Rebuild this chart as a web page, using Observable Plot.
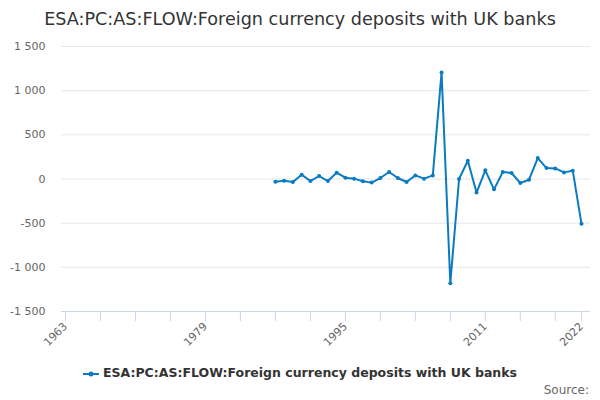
<!DOCTYPE html>
<html>
<head>
<meta charset="utf-8">
<script src="https://cdn.jsdelivr.net/npm/d3@7"></script>
<script src="https://cdn.jsdelivr.net/npm/@observablehq/plot@0.6"></script>
<style>
  body { margin: 0; background: #fff; font-family: "DejaVu Sans", sans-serif; }
  #wrap { width: 600px; height: 400px; position: relative; }
  #title { height: 36px; line-height: 38px; text-align: center; font-size: 17.6px; color: #333; }
  #legend { position: absolute; top: 365px; left: 0; width: 600px; text-align: center; font-size: 12.5px; font-weight: bold; color: #333; }
  #legend svg { vertical-align: middle; margin-right: 4px; }
  #source { position: absolute; top: 383px; right: 11px; font-size: 12px; color: #666; }
</style>
</head>
<body>
<div id="wrap">
  <div id="title">ESA:PC:AS:FLOW:Foreign currency deposits with UK banks</div>
  <div id="chart"></div>
  <div id="legend"><svg width="16" height="10"><line x1="0" y1="5" x2="16" y2="5" stroke="#0b7bc1" stroke-width="2"/><circle cx="8" cy="5" r="2.5" fill="#0b7bc1"/></svg>ESA:PC:AS:FLOW:Foreign currency deposits with UK banks</div>
  <div id="source">Source:</div>
</div>
<script>
const seriesName = "ESA:PC:AS:FLOW:Foreign currency deposits with UK banks"
const years = d3.range(1987, 2023)
const values = [-30, -19, -34, 49, -23, 34, -23, 71, 15, 4,
                -26, -41, 11, 79, 11, -34, 41, 4, 41, 1207,
                -1180, 0, 207, -154, 98, -117, 79, 68, -45, -8,
                237, 124, 120, 75, 94, -508]
const tickYears = [1963, 1967, 1971, 1975, 1979, 1983, 1987, 1991, 1995, 1999, 2003, 2007, 2011, 2015, 2019, 2022]
const labelYears = [1963, 1979, 1995, 2011, 2022]
const yTicks = [-1500, -1000, -500, 0, 500, 1000, 1500]

const data = years.map((y, i) => ({year: y, value: values[i]}))
const fmt = d3.formatLocale({decimal: ".", thousands: " ", grouping: [3], currency: ["", ""], minus: "-"}).format(",")
const color = "#0b7bc1"

const chart = Plot.plot({
  width: 600,
  height: 318,
  marginTop: 10,
  marginBottom: 43,
  marginLeft: 61,
  marginRight: 10,
  insetLeft: 4,
  insetRight: 9,
  style: {fontFamily: "DejaVu Sans, sans-serif", fontSize: "11px", color: "#666", background: "#fff"},
  x: {domain: [1963, 2022]},
  y: {domain: [-1500, 1500]},
  marks: [
    Plot.gridY(yTicks, {stroke: "#e6e6e6", strokeOpacity: 1}),
    Plot.ruleY([-1500], {stroke: "#ccd6eb"}),
    Plot.axisY(yTicks, {tickSize: 0, tickPadding: 16, tickFormat: fmt, label: null, fill: "#666"}),
    Plot.axisX(tickYears, {tickSize: 10, stroke: "#ccd6eb", text: null, label: null}),
    Plot.axisX(labelYears, {tickSize: 0, tickPadding: 13, tickRotate: -45, tickFormat: d => String(d), label: null, fill: "#666"}),
    Plot.line(data, {x: "year", y: "value", stroke: color, strokeWidth: 2}),
    Plot.dot(data, {x: "year", y: "value", fill: color, r: 2})
  ]
})

d3.select('#chart').append(() => chart)
</script>
</body>
</html>
